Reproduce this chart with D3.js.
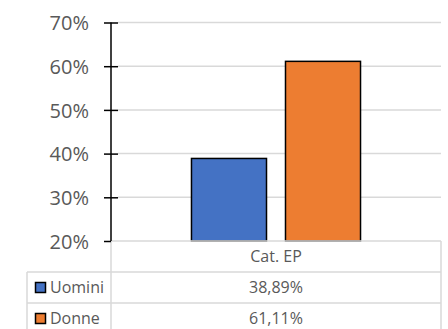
<!DOCTYPE html>
<html><head><meta charset="utf-8">
<script src="https://cdn.jsdelivr.net/npm/d3@7"></script>
<style>html,body{margin:0;padding:0;background:#fff;}svg{display:block;}</style>
</head><body>
<script>
const categories = ["Cat. EP"];
const series = ["Uomini", "Donne"];
const values = [[0.3889], [0.6111]];
const colors = ["#4472c4", "#ed7d31"];
const yTicks = [0.2, 0.3, 0.4, 0.5, 0.6, 0.7];

const W = 448, H = 329;
const svg = d3.select("body").append("svg").attr("width", W).attr("height", H);
const font = "'Open Sans', sans-serif";
const plotL = 111, plotR = 441, plotT = 22.5, plotB = 241;
const rowH = 31, legL = 27;

const y = d3.scaleLinear().domain([0.2, 0.7]).range([plotB, plotT]);
const x = d3.scaleBand().domain(categories).range([plotL, plotR]);
const xs = d3.scaleBand().domain(series).range([0, x.bandwidth()]).paddingInner(0.202).paddingOuter(0.856);
const pct = d3.format(".0%");
const it = d3.formatLocale({decimal: ",", thousands: ".", grouping: [3], currency: ["", "€"]});
const pct2 = it.format(".2%");

// gridlines
svg.append("g").selectAll("line").data(yTicks.slice(1)).join("line")
  .attr("x1", plotL + 7).attr("x2", plotR)
  .attr("y1", d => y(d)).attr("y2", d => y(d))
  .attr("stroke", "#d9d9d9").attr("stroke-width", 1.5);

// bars
categories.forEach((c, ci) => {
  svg.append("g").selectAll("rect").data(series).join("rect")
    .attr("x", s => x(c) + xs(s))
    .attr("y", (s, si) => y(values[si][ci]))
    .attr("width", xs.bandwidth())
    .attr("height", (s, si) => plotB - y(values[si][ci]))
    .attr("fill", (s, si) => colors[si])
    .attr("stroke", "#000").attr("stroke-width", 1.5);
});

// table lines
const tg = svg.append("g").attr("stroke", "#d9d9d9").attr("stroke-width", 1.5);
tg.append("line").attr("x1", plotL).attr("x2", plotR).attr("y1", plotB).attr("y2", plotB);
series.forEach((s, i) => {
  const yy = plotB + rowH * (i + 1);
  tg.append("line").attr("x1", legL).attr("x2", plotR).attr("y1", yy).attr("y2", yy);
});
tg.append("line").attr("x1", plotL).attr("x2", plotL).attr("y1", plotB).attr("y2", H);
tg.append("line").attr("x1", plotR).attr("x2", plotR).attr("y1", plotB).attr("y2", H);
tg.append("line").attr("x1", legL).attr("x2", legL).attr("y1", plotB + rowH).attr("y2", H);

// y axis
const ax = svg.append("g").attr("transform", `translate(${plotL},0)`)
  .call(d3.axisLeft(y).tickValues(yTicks).tickFormat(pct).tickSize(7).tickPadding(15));
ax.select(".domain").attr("stroke", "#000").attr("stroke-width", 1.5).attr("d", `M0,${plotT}V${plotB}`);
ax.selectAll(".tick line").attr("stroke", "#000").attr("stroke-width", 1.5);
ax.selectAll(".tick").filter(d => d !== 0.2).append("line").attr("x1", 0).attr("x2", 7).attr("stroke", "#000").attr("stroke-width", 1.5);
ax.selectAll(".tick text").attr("font-family", font).attr("font-size", 20).attr("fill", "#595959").attr("dy", "0.36em");

// table text
categories.forEach((c, ci) => {
  svg.append("text").attr("x", x(c) + x.bandwidth() / 2).attr("y", plotB + rowH / 2)
    .attr("dy", "0.36em").attr("text-anchor", "middle")
    .attr("font-family", font).attr("font-size", 16).attr("fill", "#595959").text(c);
  series.forEach((s, si) => {
    svg.append("text").attr("x", x(c) + x.bandwidth() / 2).attr("y", plotB + rowH * (si + 1.5))
      .attr("dy", "0.36em").attr("text-anchor", "middle")
      .attr("font-family", font).attr("font-size", 16).attr("fill", "#595959").text(pct2(values[si][ci]));
  });
});
series.forEach((s, si) => {
  const cy = plotB + rowH * (si + 1.5);
  svg.append("rect").attr("x", 35.5).attr("y", cy - 5).attr("width", 10).attr("height", 10)
    .attr("fill", colors[si]).attr("stroke", "#000").attr("stroke-width", 1.5);
  svg.append("text").attr("x", 50).attr("y", cy).attr("dy", "0.36em")
    .attr("font-family", font).attr("font-size", 16).attr("fill", "#595959").text(s);
});
</script>
</body></html>
